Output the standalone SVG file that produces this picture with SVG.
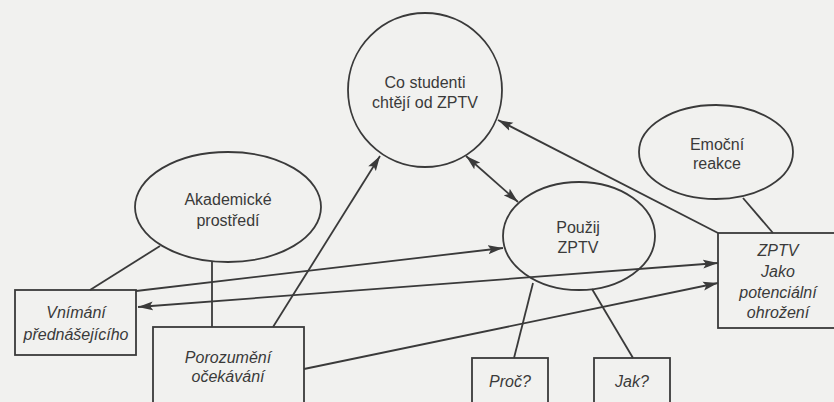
<svg xmlns="http://www.w3.org/2000/svg" width="834" height="402" viewBox="0 0 834 402">
<style>
.n{fill:none;stroke:#3a3a3a;stroke-width:1.8}
.t{font-family:"Liberation Sans",Arial,sans-serif;font-size:16px;fill:#3a3a3a;text-anchor:middle}
.i{font-style:italic}
.c line{stroke:#3a3a3a;stroke-width:1.8;fill:none}
</style>
<defs>
<marker id="ah" markerUnits="userSpaceOnUse" markerWidth="16" markerHeight="10" refX="15" refY="5" orient="auto-start-reverse" viewBox="0 0 16 10">
<path d="M0,0.5 L15,5 L0,9.5 L3,5 z" fill="#3a3a3a"/>
</marker>
</defs>
<rect x="0" y="0" width="834" height="402" fill="#f1f1ef"/>
<g id="connectors" class="c">
<line x1="136" y1="291" x2="503" y2="248" marker-end="url(#ah)"/>
<line x1="138" y1="307" x2="718" y2="263" marker-start="url(#ah)" marker-end="url(#ah)"/>
<line x1="304" y1="369" x2="718" y2="283" marker-end="url(#ah)"/>
<line x1="273" y1="327" x2="380" y2="156" marker-end="url(#ah)"/>
<line x1="212" y1="261" x2="212" y2="327"/>
<line x1="160" y1="246" x2="90" y2="290"/>
<line x1="718" y1="233" x2="498" y2="120" marker-end="url(#ah)"/>
<line x1="466" y1="156" x2="518" y2="202" marker-start="url(#ah)" marker-end="url(#ah)"/>
<line x1="743" y1="198" x2="773" y2="233"/>
<line x1="533" y1="283" x2="514" y2="358"/>
<line x1="592" y1="289" x2="633" y2="358"/>
</g>
<g id="co-studenti">
<ellipse class="n" cx="425" cy="90" rx="77" ry="77"/>
<text class="t" x="425" y="88">Co studenti</text>
<text class="t" x="425" y="108">chtějí od ZPTV</text>
</g>
<g id="emocni-reakce">
<ellipse class="n" cx="716" cy="152" rx="77" ry="47"/>
<text class="t" x="717" y="150">Emoční</text>
<text class="t" x="717" y="169">reakce</text>
</g>
<g id="akademicke-prostredi">
<ellipse class="n" cx="228" cy="207" rx="93" ry="55"/>
<text class="t" x="228" y="205">Akademické</text>
<text class="t" x="228" y="226">prostředí</text>
</g>
<g id="pouzij-zptv">
<ellipse class="n" cx="579" cy="236" rx="76" ry="54"/>
<text class="t" x="578" y="233">Použij</text>
<text class="t" x="578" y="253">ZPTV</text>
</g>
<g id="vnimani">
<rect class="n" x="15" y="290" width="121" height="65"/>
<text class="t i" x="76" y="318">Vnímání</text>
<text class="t i" x="76" y="340">přednášejícího</text>
</g>
<g id="porozumeni">
<rect class="n" x="153" y="327" width="151" height="90"/>
<text class="t i" x="228" y="363">Porozumění</text>
<text class="t i" x="228" y="382">očekávání</text>
</g>
<g id="zptv-ohrozeni">
<rect class="n" x="718" y="233" width="124" height="95"/>
<text class="t i" x="778" y="256">ZPTV</text>
<text class="t i" x="778" y="277">Jako</text>
<text class="t i" x="778" y="298">potenciální</text>
<text class="t i" x="778" y="318">ohrožení</text>
</g>
<g id="proc">
<rect class="n" x="472" y="358" width="76" height="60"/>
<text class="t i" x="510" y="387">Proč?</text>
</g>
<g id="jak">
<rect class="n" x="594" y="358" width="76" height="60"/>
<text class="t i" x="632" y="387">Jak?</text>
</g>
</svg>
